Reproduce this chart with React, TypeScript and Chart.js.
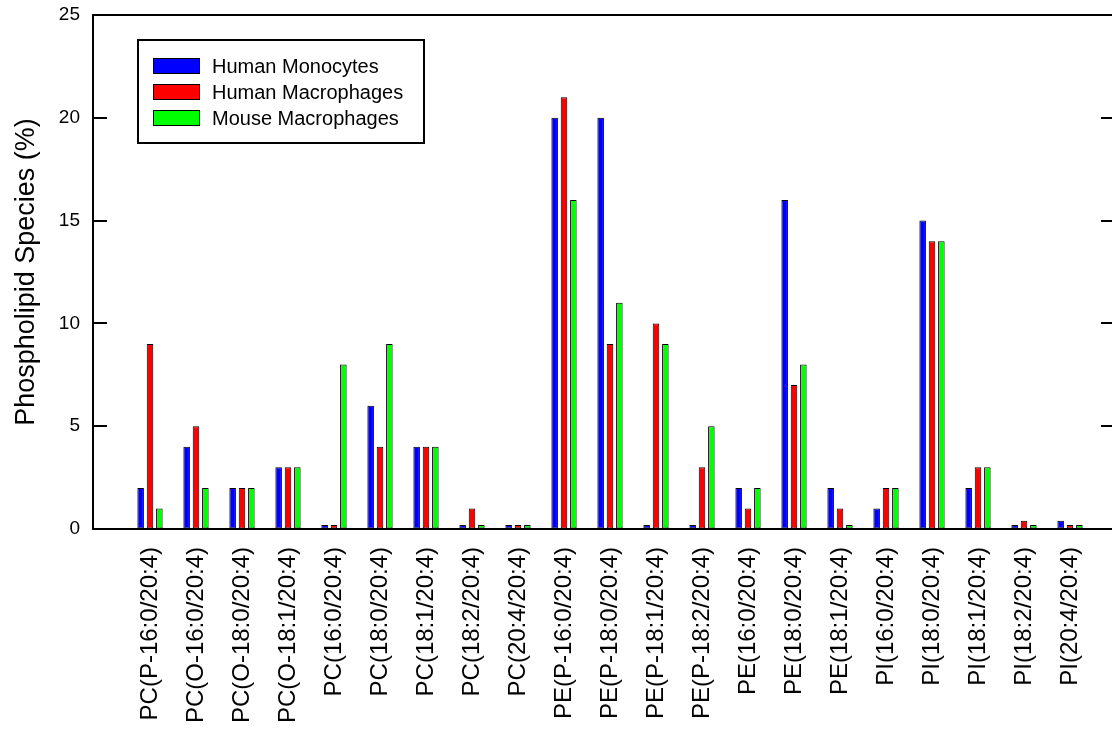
import React, { useEffect, useRef } from 'react';
import { Chart, registerables } from 'chart.js';

Chart.register(...registerables);

const categories = [
  'PC(P-16:0/20:4)', 'PC(O-16:0/20:4)', 'PC(O-18:0/20:4)', 'PC(O-18:1/20:4)',
  'PC(16:0/20:4)', 'PC(18:0/20:4)', 'PC(18:1/20:4)', 'PC(18:2/20:4)', 'PC(20:4/20:4)',
  'PE(P-16:0/20:4)', 'PE(P-18:0/20:4)', 'PE(P-18:1/20:4)', 'PE(P-18:2/20:4)',
  'PE(16:0/20:4)', 'PE(18:0/20:4)', 'PE(18:1/20:4)',
  'PI(16:0/20:4)', 'PI(18:0/20:4)', 'PI(18:1/20:4)', 'PI(18:2/20:4)', 'PI(20:4/20:4)',
];
const humanMonocytes = [2, 4, 2, 3, 0.2, 6, 4, 0.2, 0.2, 20, 20, 0.2, 0.2, 2, 16, 2, 1, 15, 2, 0.2, 0.4];
const humanMacrophages = [9, 5, 2, 3, 0.2, 4, 4, 1, 0.2, 21, 9, 10, 3, 1, 7, 1, 2, 14, 3, 0.4, 0.2];
const mouseMacrophages = [1, 2, 2, 3, 8, 9, 4, 0.2, 0.2, 16, 11, 9, 5, 2, 8, 0.2, 2, 14, 3, 0.2, 0.2];
const seriesLabels = ['Human Monocytes', 'Human Macrophages', 'Mouse Macrophages'];
const seriesColors = ['#0000ff', '#ff0000', '#00ff00'];
const innerTicks = [5, 10, 15, 20];
const yTitle = 'Phospholipid Species (%)';

const FONT = "'Liberation Sans', Arial, Helvetica, sans-serif";

const framePlugin = {
  id: 'frame',
  beforeDraw(chart: any) {
    const ctx = chart.ctx;
    ctx.save();
    ctx.fillStyle = '#ffffff';
    ctx.fillRect(0, 0, chart.width, chart.height);
    ctx.restore();
  },
  afterDraw(chart: any) {
    const { ctx, chartArea } = chart;
    const { left, right, top, bottom } = chartArea;
    const yScale = chart.scales.y;
    ctx.save();
    ctx.strokeStyle = '#000';
    ctx.lineWidth = 2;
    ctx.beginPath();
    ctx.moveTo(left, top);
    ctx.lineTo(right, top);
    ctx.lineTo(right, bottom);
    ctx.stroke();
    innerTicks.forEach((v) => {
      const y = Math.round(yScale.getPixelForValue(v));
      ctx.beginPath();
      ctx.moveTo(left, y);
      ctx.lineTo(left + 14, y);
      ctx.moveTo(right - 14, y);
      ctx.lineTo(right, y);
      ctx.stroke();
    });
    // legend
    const lx = 138, ly = 40, lw = 286, lh = 103;
    ctx.lineWidth = 2;
    ctx.strokeRect(lx, ly, lw, lh);
    ctx.font = `20px ${FONT}`;
    ctx.textBaseline = 'middle';
    ctx.textAlign = 'left';
    seriesLabels.forEach((label, i) => {
      const cy = 66 + i * 26;
      ctx.fillStyle = seriesColors[i];
      ctx.fillRect(153, cy - 8, 47, 16);
      ctx.lineWidth = 1;
      ctx.strokeStyle = '#000';
      ctx.strokeRect(153.5, cy - 7.5, 46, 15);
      ctx.fillStyle = '#000';
      ctx.fillText(label, 212, cy + 1);
    });
    ctx.restore();
  },
};

export default function App() {
  const canvasRef = useRef<HTMLCanvasElement | null>(null);

  useEffect(() => {
    if (!canvasRef.current) return;
    const datasets = [humanMonocytes, humanMacrophages, mouseMacrophages].map((arr, k) => ({
      label: seriesLabels[k],
      data: arr.map((v, i) => ({ x: i, y: v })),
      backgroundColor: seriesColors[k],
      borderColor: '#000000',
      borderWidth: 1,
      borderSkipped: false as any,
      categoryPercentage: 0.61,
      barPercentage: 0.7,
    }));
    const chart = new Chart(canvasRef.current, {
      type: 'bar',
      data: { datasets },
      plugins: [framePlugin],
      options: {
        animation: false,
        responsive: false,
        maintainAspectRatio: false,
        devicePixelRatio: 1,
        layout: { padding: { top: 15, right: 5, left: 0, bottom: 0 } },
        plugins: {
          legend: { display: false },
          tooltip: { enabled: false },
          title: { display: false },
        },
        scales: {
          x: {
            type: 'linear',
            offset: false,
            min: -1.239,
            max: 20.978,
            grid: { display: true, drawOnChartArea: false, drawTicks: false, offset: false },
            border: { display: true, color: '#000', width: 2 },
            afterBuildTicks: (scale: any) => {
              scale.ticks = categories.map((_, i) => ({ value: i }));
            },
            afterFit: (scale: any) => {
              scale.height = 204;
              scale.paddingLeft = 0;
              scale.paddingRight = 0;
            },
            ticks: {
              autoSkip: false,
              minRotation: 90,
              maxRotation: 90,
              padding: 18,
              color: '#000',
              font: { family: FONT, size: 24 },
              callback: (value: any) => categories[Math.round(Number(value))] ?? '',
            },
          },
          y: {
            min: 0,
            max: 25,
            grid: { display: true, drawOnChartArea: false, drawTicks: false },
            border: { display: true, color: '#000', width: 2 },
            afterFit: (scale: any) => {
              scale.width = 93;
              scale.paddingTop = 0;
              scale.paddingBottom = 0;
            },
            ticks: {
              stepSize: 5,
              padding: 13,
              color: '#000',
              font: { family: FONT, size: 19 },
            },
            title: {
              display: true,
              text: yTitle,
              color: '#000',
              font: { family: FONT, size: 27 },
              padding: { top: 10, bottom: 0 },
            },
          },
        },
      } as any,
    });
    return () => chart.destroy();
  }, []);

  return (
    <div style={{ position: 'fixed', left: 0, top: 0, width: 1112, height: 733, overflow: 'hidden', background: '#fff' }}>
      <canvas ref={canvasRef} width={1120} height={733} style={{ display: 'block' }} />
    </div>
  );
}
